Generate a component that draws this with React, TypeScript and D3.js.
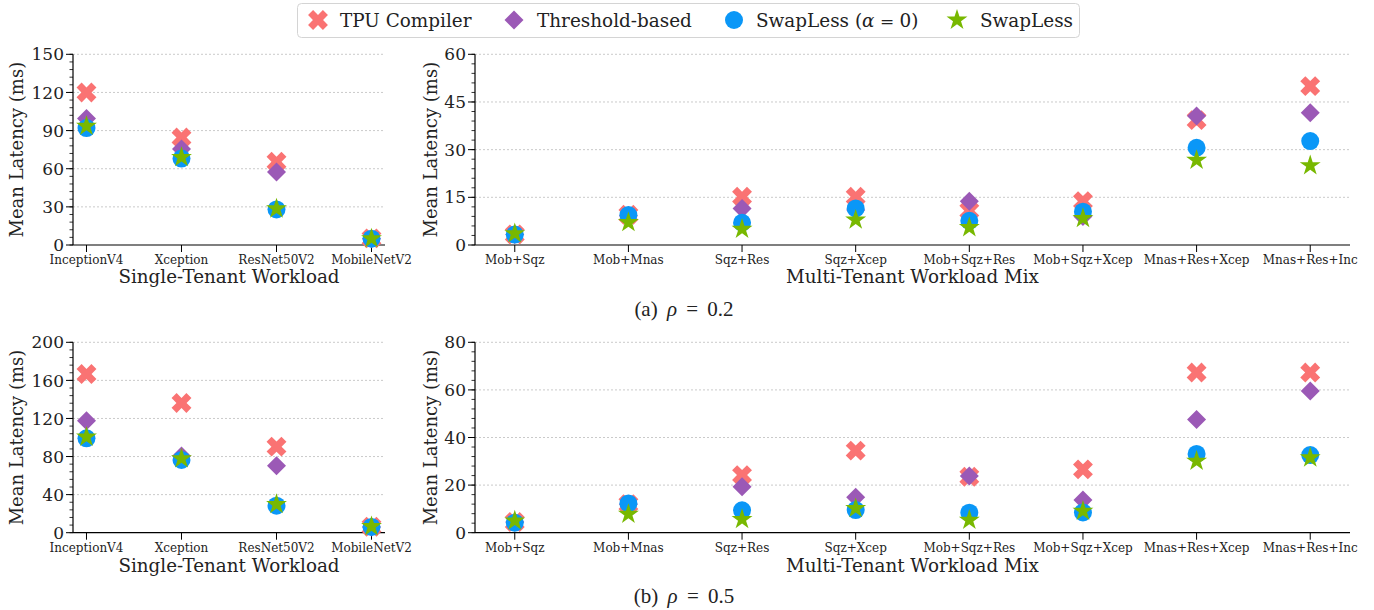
import React from "react";
import * as d3 from "d3";

const singleCats = ["InceptionV4", "Xception", "ResNet50V2", "MobileNetV2"];
const multiCats = ["Mob+Sqz", "Mob+Mnas", "Sqz+Res", "Sqz+Xcep", "Mob+Sqz+Res", "Mob+Sqz+Xcep", "Mnas+Res+Xcep", "Mnas+Res+Inc"];

const seriesNames = ["TPU Compiler", "Threshold-based", "SwapLess (α = 0)", "SwapLess"];

// rho = 0.2
const singleTPU02 = [120, 84.5, 65.5, 5.2];
const singleThr02 = [99.5, 75.5, 57.5, 5];
const singleSwap0_02 = [92, 68, 28, 5];
const singleSwap02 = [93.5, 69, 28.5, 5];
const multiTPU02 = [3.3, 9.5, 15.2, 15.2, 10.8, 13.8, 39.3, 50];
const multiThr02 = [3.3, 9.2, 11.5, 11, 13.8, 9, 40.6, 41.6];
const multiSwap0_02 = [3.3, 9.4, 7.0, 11.5, 7.6, 10.5, 30.6, 32.7];
const multiSwap02 = [3.6, 7.1, 5.0, 7.9, 5.5, 8.4, 26.7, 25.0];

// rho = 0.5
const singleTPU05 = [166.7, 136.3, 90.4, 6.3];
const singleThr05 = [117.7, 80.6, 70.4, 6];
const singleSwap0_05 = [99.1, 76.4, 28.4, 6];
const singleSwap05 = [100.5, 77.8, 29.8, 6.5];
const multiTPU05 = [4.5, 12, 24.2, 34.5, 23.5, 26.6, 67.3, 67.3];
const multiThr05 = [4.5, 12, 19.3, 14.9, 23.8, 13.7, 47.6, 59.5];
const multiSwap0_05 = [4.2, 12.3, 9.4, 9.5, 8.4, 8.5, 33.1, 32.6];
const multiSwap05 = [5.0, 7.8, 5.6, 10.2, 5.3, 9.1, 30.1, 31.5];

const yTicksTL = [0, 30, 60, 90, 120, 150];
const yTicksTR = [0, 15, 30, 45, 60];
const yTicksBL = [0, 40, 80, 120, 160, 200];
const yTicksBR = [0, 20, 40, 60, 80];

const colors = ["#fa7373", "#9b59b6", "#0a97f7", "#78b800"];
const SERIF = "'DejaVu Serif', serif";

function xPath(r: number) {
  const t = r * 0.34;
  const pts = [[-t, -r], [t, -r], [t, -t], [r, -t], [r, t], [t, t], [t, r], [-t, r], [-t, t], [-r, t], [-r, -t], [-t, -t]];
  const c = Math.SQRT1_2;
  return "M" + pts.map(([x, y]) => `${(x * c - y * c).toFixed(2)},${(x * c + y * c).toFixed(2)}`).join("L") + "Z";
}
function diamondPath(r: number) {
  return `M0,${-r}L${r},0L0,${r}L${-r},0Z`;
}
function starPath(R: number) {
  const ri = R * 0.382;
  const pts: string[] = [];
  for (let i = 0; i < 10; i++) {
    const rr = i % 2 === 0 ? R : ri;
    const a = -Math.PI / 2 + (i * Math.PI) / 5;
    pts.push(`${(rr * Math.cos(a)).toFixed(2)},${(rr * Math.sin(a)).toFixed(2)}`);
  }
  return "M" + pts.join("L") + "Z";
}
function Marker({ kind, x, y }: { kind: number; x: number; y: number }) {
  const fill = colors[kind];
  if (kind === 0) return <path d={xPath(10.5)} transform={`translate(${x},${y})`} fill={fill} />;
  if (kind === 1) return <path d={diamondPath(9.5)} transform={`translate(${x},${y})`} fill={fill} />;
  if (kind === 2) return <circle cx={x} cy={y} r={9} fill={fill} />;
  return <path d={starPath(11)} transform={`translate(${x},${y})`} fill={fill} />;
}

type PanelCfg = {
  x0: number; x1: number; yTop: number; yBot: number; pad: number;
  yMax: number; ticks: number[]; cats: string[]; series: number[][];
  xTitle: string; xTitleY: number; xTickY: number; yLabelX: number;
};

function Panel(p: PanelCfg) {
  const x = d3.scalePoint<string>().domain(p.cats).range([p.x0, p.x1]).padding(p.pad);
  const y = d3.scaleLinear().domain([0, p.yMax]).range([p.yBot, p.yTop]);
  const step = p.ticks[1] - p.ticks[0];
  const minors: number[] = [];
  for (let v = 0; v <= p.yMax + 1e-9; v += step / 5) minors.push(v);
  return (
    <g>
      {p.ticks.filter((t) => t > 0).map((t) => (
        <line key={"g" + t} x1={p.x0} x2={p.x1} y1={y(t)} y2={y(t)} stroke="#bdbdbd" strokeWidth={0.8} strokeDasharray="2,2" />
      ))}
      {minors.map((m, i) => (
        <line key={"m" + i} x1={p.x0 - 3.5} x2={p.x0} y1={y(m)} y2={y(m)} stroke="#000" strokeWidth={0.8} />
      ))}
      {p.ticks.map((t) => (
        <g key={"t" + t}>
          <line x1={p.x0 - 7} x2={p.x0} y1={y(t)} y2={y(t)} stroke="#000" strokeWidth={1} />
          <text x={p.x0 - 9} y={y(t)} dy="0.36em" textAnchor="end" fontFamily={SERIF} fontSize={17} fill="#222">{t}</text>
        </g>
      ))}
      {p.cats.map((c) => (
        <g key={c}>
          <line x1={x(c)} x2={x(c)} y1={p.yBot} y2={p.yBot + 7} stroke="#000" strokeWidth={1} />
          <text x={x(c)} y={p.xTickY} textAnchor="middle" fontFamily={SERIF} fontSize={12} fill="#222">{c}</text>
        </g>
      ))}
      <line x1={p.x0} x2={p.x0} y1={p.yTop} y2={p.yBot} stroke="#000" strokeWidth={1.2} />
      <line x1={p.x0} x2={p.x1} y1={p.yBot} y2={p.yBot} stroke="#000" strokeWidth={1.2} />
      <text x={(p.x0 + p.x1) / 2} y={p.xTitleY} textAnchor="middle" fontFamily={SERIF} fontSize={18.3} fill="#222">{p.xTitle}</text>
      <text transform={`translate(${p.yLabelX},${(p.yTop + p.yBot) / 2}) rotate(-90)`} textAnchor="middle" fontFamily={SERIF} fontSize={18} fill="#222">Mean Latency (ms)</text>
      {p.series.map((vals, si) =>
        vals.map((v, i) => <Marker key={si + "-" + i} kind={si} x={x(p.cats[i])!} y={y(v)} />)
      )}
    </g>
  );
}

export default function App() {
  const topY = [54.3, 245];
  const botY = [342.3, 532.7];
  const panels: PanelCfg[] = [
    { x0: 73, x1: 385, yTop: topY[0], yBot: topY[1], pad: 0.142, yMax: 150, ticks: yTicksTL, cats: singleCats,
      series: [singleTPU02, singleThr02, singleSwap0_02, singleSwap02], xTitle: "Single-Tenant Workload", xTitleY: 283, xTickY: 264, yLabelX: 23 },
    { x0: 475, x1: 1350, yTop: topY[0], yBot: topY[1], pad: 0.35, yMax: 60, ticks: yTicksTR, cats: multiCats,
      series: [multiTPU02, multiThr02, multiSwap0_02, multiSwap02], xTitle: "Multi-Tenant Workload Mix", xTitleY: 283, xTickY: 264, yLabelX: 437 },
    { x0: 73, x1: 385, yTop: botY[0], yBot: botY[1], pad: 0.142, yMax: 200, ticks: yTicksBL, cats: singleCats,
      series: [singleTPU05, singleThr05, singleSwap0_05, singleSwap05], xTitle: "Single-Tenant Workload", xTitleY: 572, xTickY: 552, yLabelX: 23 },
    { x0: 475, x1: 1350, yTop: botY[0], yBot: botY[1], pad: 0.35, yMax: 80, ticks: yTicksBR, cats: multiCats,
      series: [multiTPU05, multiThr05, multiSwap0_05, multiSwap05], xTitle: "Multi-Tenant Workload Mix", xTitleY: 572, xTickY: 552, yLabelX: 437 },
  ];
  const legendMarkX = [318, 514, 734, 957];
  const legendTextX = [340, 537, 756, 980];
  return (
    <svg width={1374} height={610} style={{ position: "absolute", left: 0, top: 0, background: "#fff" }}>
      <rect x={0} y={0} width={1374} height={610} fill="#fff" />
      {panels.map((p, i) => <Panel key={i} {...p} />)}
      <rect x={297.5} y={3.5} width={782} height={34} rx={4} fill="#fff" stroke="#d4d4d4" strokeWidth={1} />
      {seriesNames.map((n, i) => (
        <g key={n}>
          <Marker kind={i} x={legendMarkX[i]} y={20} />
          <text x={legendTextX[i]} y={26.5} fontFamily={SERIF} fontSize={18.4} fill="#222">
            {i === 2 ? (<>SwapLess (<tspan fontStyle="italic">α</tspan><tspan fontSize={17}> = </tspan>0)</>) : n}
          </text>
        </g>
      ))}
      <text x={684} y={316} textAnchor="middle" fontFamily="'Liberation Serif', serif" fontSize={21} wordSpacing={4} fill="#222">
        (a) <tspan fontStyle="italic">ρ</tspan> = 0.2
      </text>
      <text x={684} y={603} textAnchor="middle" fontFamily="'Liberation Serif', serif" fontSize={21} wordSpacing={4} fill="#222">
        (b) <tspan fontStyle="italic">ρ</tspan> = 0.5
      </text>
    </svg>
  );
}
